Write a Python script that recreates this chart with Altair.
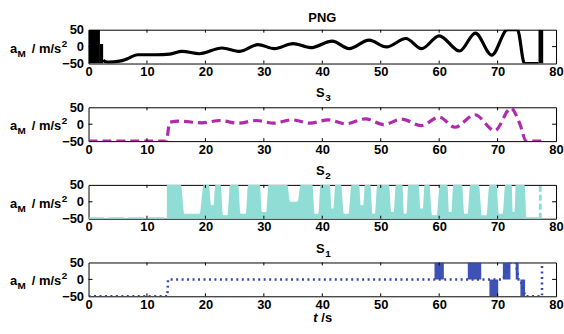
import altair as alt
import pandas as pd

# ---------------- data ----------------
# PNG (black)
png_t = [2.5, 2.8, 3.4, 5.3, 6.5, 8.4, 9.6, 11.5, 13.9, 16.0, 19.0, 22.8, 25.9, 29.0, 31.8,
         35.0, 38.0, 41.7, 44.6, 48.0, 51.0, 54.3, 57.0, 60.0, 63.5, 66.2, 69.0, 71.7, 73.4,
         74.6, 77.0]
png_v = [-40, -44, -46, -43, -37, -24, -24, -24, -22, -14, -21, -4, -14, 6, -6,
         9, -3, 16, -6, 19, -1, 24, -6, 32, -13, 40, -25, 50, 50,
         -50, -50]
png_blk_t0 = [0.0, 1.95, 77.0]
png_blk_t1 = [1.95, 2.5, 77.8]
png_blk_lo = [-50, -50, -50]
png_blk_hi = [50, 8, 50]

# S3 (magenta, dashed)
s3_t = [0, 13.3, 13.9, 15.7, 19.4, 22.5, 25.6, 28.7, 31.7, 34.8, 37.9, 41.0, 44.0, 47.4,
        50.5, 53.6, 56.9, 60.0, 62.7, 66.1, 69.5, 72.3, 73.8, 74.9, 77.8]
s3_v = [-50, -50, 6, 9, 4, 11, 3, 11, 3, 13, 3, 13, 1, 16,
        -1, 15, -4, 21, -9, 28, -19, 47, 1, -50, -50]

# S2 (turquoise): upper edge of the densely switching band, bottom at -50
s2_t = [13.4, 15.8, 16.4, 19.0, 19.7,
        20.6, 21.0, 21.4, 21.7,
        22.6, 23.0, 23.8, 24.2,
        25.6, 26.0, 26.9, 27.3,
        29.3, 29.7, 30.4, 30.8,
        34.0, 34.5, 35.8, 36.3,
        38.3, 38.7, 39.3, 39.7,
        41.3, 41.6, 41.9, 42.2,
        43.2, 43.7, 44.5, 45.0,
        46.3, 46.6, 47.0, 47.3,
        48.2, 48.6, 49.0, 49.4,
        51.4, 51.8, 52.2, 52.6,
        53.7, 54.0, 54.4, 54.7,
        56.5, 56.8, 57.2, 57.5,
        58.3, 58.8, 59.6, 60.1,
        61.4, 61.7, 62.1, 62.4,
        63.9, 64.3, 64.9, 65.3,
        66.8, 67.3, 68.1, 68.6,
        69.8, 70.2, 70.9, 71.3,
        72.4, 72.6, 72.9, 73.1,
        74.6, 74.9]
s2_top = [50, 50, -35, -35, 50,
          50, -10, -10, 50,
          50, -40, -40, 50,
          50, -35, -35, 50,
          50, -30, -30, 50,
          50, 0, 0, 50,
          50, -35, -35, 50,
          50, -20, -20, 50,
          50, -35, -35, 50,
          50, -10, -10, 50,
          50, -35, -35, 50,
          50, -30, -30, 50,
          50, -35, -35, 50,
          50, -20, -20, 50,
          50, -40, -40, 50,
          50, -30, -30, 50,
          50, -35, -35, 50,
          50, -40, -40, 50,
          50, -35, -35, 50,
          50, -30, -30, 50,
          50, -50]
s2_low_t = [0, 13.4]
s2_tail_t = [74.9, 77.3]
s2_spike_t = [77.3, 77.3]
s2_spike_v = [-50, 50]

# S1 (blue, dotted)
s1_t = [0, 13.5, 13.6, 59.2, 60.8, 64.9, 67.2, 68.6, 70.1, 70.9, 72.2, 73.1, 73.6, 73.9,
        74.7, 77.6, 77.6]
s1_v = [-50, -50, 0, 0, 0, 0, 0, 0, 0, 0, 50, 50, 0, 0,
        -50, -50, 50]
s1_blk_t0 = [59.2, 64.9, 68.6, 70.9, 73.1, 73.9]
s1_blk_t1 = [60.8, 67.2, 70.1, 72.2, 73.6, 74.7]
s1_blk_lo = [0, 0, -50, 0, 0, -50]
s1_blk_hi = [50, 50, 0, 50, 50, 0]

x_ticks = [0, 10, 20, 30, 40, 50, 60, 70, 80]
y_ticks = [-50, 0, 50]

# ---------------- styling ----------------
FONT = "Liberation Sans"
W, H = 470, 34
BLACK = "#000000"
MAGENTA = "#B02AAE"
TEAL = "#8FDDD5"
BLUE = "#3448B0"


def xenc(field):
    return alt.X(field, type="quantitative",
                 scale=alt.Scale(domain=[0, 80], nice=False, zero=False),
                 axis=alt.Axis(values=x_ticks, title=None, labelFont=FONT,
                               labelFontWeight="bold", labelFontSize=13,
                               labelColor="black", tickSize=0, domain=False,
                               grid=False, labelPadding=2, labelFlush=False))


def yenc(field):
    return alt.Y(field, type="quantitative",
                 scale=alt.Scale(domain=[-50, 50], nice=False, zero=False),
                 axis=alt.Axis(values=y_ticks, title=None, labelFont=FONT,
                               labelFontWeight="bold", labelFontSize=13,
                               labelColor="black", tickSize=0, domain=False,
                               grid=False, labelPadding=5, labelFlush=False))


def txt(s, x, y, size=13, align="left", style="normal"):
    return alt.Chart(pd.DataFrame({"s": [s]})).mark_text(
        align=align, baseline="alphabetic", font=FONT, fontSize=size,
        fontWeight="bold", fontStyle=style, color="black"
    ).encode(x=alt.value(x), y=alt.value(y), text="s:N")


def ticks():
    xt = pd.DataFrame({"t": x_ticks[1:-1]})
    yt = pd.DataFrame({"v": [0]})
    top = alt.Chart(xt).mark_rule(color="black", strokeWidth=1).encode(
        x=xenc("t"), y=alt.value(0), y2=alt.value(3))
    bot = alt.Chart(xt).mark_rule(color="black", strokeWidth=1).encode(
        x=xenc("t"), y=alt.value(H - 3), y2=alt.value(H))
    lft = alt.Chart(yt).mark_rule(color="black", strokeWidth=1).encode(
        y=yenc("v"), x=alt.value(0), x2=alt.value(4))
    rgt = alt.Chart(yt).mark_rule(color="black", strokeWidth=1).encode(
        y=yenc("v"), x=alt.value(W - 4), x2=alt.value(W))
    return [top, bot, lft, rgt]


def ylabel():
    b = H / 2 + 6
    return [txt("a", -79, b), txt("M", -71.5, b + 4, size=10),
            txt("/ m/s", -57, b), txt("2", -27, b - 6, size=10)]


def title(main, sub=None):
    if sub is None:
        return [txt(main, W / 2, -8, align="center")]
    return [txt(main, W / 2 - 2, -10, align="center"),
            txt(sub, W / 2 + 3, -6, size=10)]


# ---------------- panels ----------------
df_png = pd.DataFrame({"t": png_t, "v": png_v})
df_png_blk = pd.DataFrame({"t0": png_blk_t0, "t1": png_blk_t1, "lo": png_blk_lo, "hi": png_blk_hi})
png_line = alt.Chart(df_png).mark_line(color=BLACK, strokeWidth=3.2, interpolate="monotone",
                                       clip=True).encode(x=xenc("t"), y=yenc("v"))
png_blk = alt.Chart(df_png_blk).mark_rect(color=BLACK, clip=True).encode(
    x=xenc("t0"), x2="t1", y=yenc("lo"), y2="hi")
p1 = alt.layer(png_line, png_blk, *ticks(), *ylabel(), *title("PNG")).properties(width=W, height=H)

df_s3 = pd.DataFrame({"t": s3_t, "v": s3_v})
s3_line = alt.Chart(df_s3).mark_line(color=MAGENTA, strokeWidth=3.2, strokeDash=[9, 5],
                                     interpolate="monotone", clip=True).encode(
    x=xenc("t"), y=yenc("v"))
p2 = alt.layer(s3_line, *ticks(), *ylabel(), *title("S", "3")).properties(width=W, height=H)

df_s2 = pd.DataFrame({"t": s2_t, "v": s2_top})
s2_area = alt.Chart(df_s2).mark_area(color=TEAL, opacity=1, interpolate="monotone",
                                     clip=True).encode(
    x=xenc("t"), y=yenc("v"), y2=alt.datum(-50))
df_s2_low = pd.DataFrame({"t": s2_low_t + s2_tail_t, "v": [-50] * 4, "g": [0, 0, 1, 1]})
s2_low = alt.Chart(df_s2_low).mark_line(color=TEAL, strokeWidth=3, strokeDash=[16, 4],
                                        clip=True).encode(
    x=xenc("t"), y=yenc("v"), detail="g:N")
df_s2_spike = pd.DataFrame({"t": s2_spike_t, "v": s2_spike_v})
s2_spike = alt.Chart(df_s2_spike).mark_line(color=TEAL, strokeWidth=3, strokeDash=[6, 3],
                                            clip=True).encode(x=xenc("t"), y=yenc("v"))
p3 = alt.layer(s2_area, s2_low, s2_spike, *ticks(), *ylabel(), *title("S", "2")).properties(
    width=W, height=H)

df_s1 = pd.DataFrame({"t": s1_t, "v": s1_v})
df_s1_blk = pd.DataFrame({"t0": s1_blk_t0, "t1": s1_blk_t1, "lo": s1_blk_lo, "hi": s1_blk_hi})
s1_line = alt.Chart(df_s1).mark_line(color=BLUE, strokeWidth=2.5, strokeDash=[2, 3.5],
                                     clip=True).encode(x=xenc("t"), y=yenc("v"))
s1_blk = alt.Chart(df_s1_blk).mark_rect(color=BLUE, opacity=0.95, clip=True).encode(
    x=xenc("t0"), x2="t1", y=yenc("lo"), y2="hi")
p4 = alt.layer(s1_line, s1_blk, *ticks(), *ylabel(), *title("S", "1"),
               txt("t", W / 2 - 9, 60, style="italic"), txt("/s", W / 2 - 1, 60)).properties(
    width=W, height=H)

chart = alt.vconcat(p1, p2, p3, p4, spacing=7).properties(
    padding={"left": 9, "top": 10, "right": 0, "bottom": 0},
    background="white",
).configure_view(stroke="black", strokeWidth=1)

chart.save("out.html", embed_options={"renderer": "svg", "actions": False})
